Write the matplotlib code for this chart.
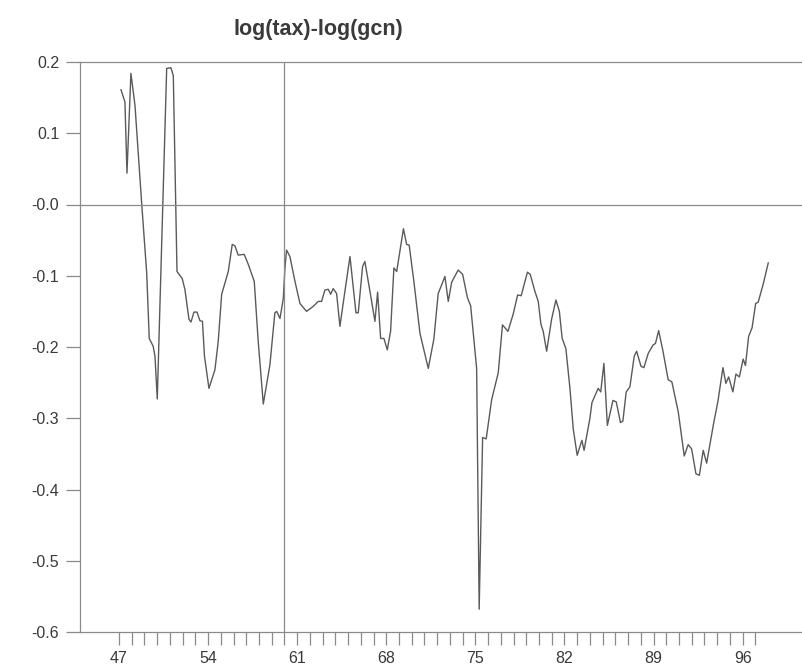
import matplotlib
matplotlib.use("Agg")
import matplotlib.pyplot as plt
import numpy as np

plt.rcParams['font.family'] = ['Liberation Sans', 'DejaVu Sans']
plt.rcParams['axes.unicode_minus'] = False

title = "log(tax)-log(gcn)"

dates = [
    1947.16, 1947.47, 1947.63, 1947.94, 1948.26, 1948.78, 1949.18, 1949.38, 1949.69, 1949.83,
    1950.01, 1950.75, 1951.08, 1951.27, 1951.56, 1951.97, 1952.18, 1952.50, 1952.66, 1952.89,
    1953.13, 1953.36, 1953.56, 1953.72, 1954.07, 1954.54, 1954.80, 1955.07, 1955.59, 1955.90,
    1956.11, 1956.37, 1956.84, 1957.16, 1957.63, 1957.94, 1958.34, 1958.86, 1959.25, 1959.39,
    1959.65, 1959.91, 1960.04, 1960.17, 1960.43, 1960.83, 1961.22, 1961.74, 1962.26, 1962.66,
    1962.92, 1963.18, 1963.44, 1963.63, 1963.83, 1964.10, 1964.36, 1964.75, 1965.15, 1965.62,
    1965.80, 1966.14, 1966.32, 1966.72, 1967.11, 1967.32, 1967.56, 1967.82, 1968.08, 1968.34,
    1968.60, 1968.82, 1969.35, 1969.60, 1969.80, 1970.17, 1970.65, 1971.30, 1971.74, 1972.08,
    1972.61, 1972.87, 1973.14, 1973.65, 1974.00, 1974.38, 1974.63, 1975.10, 1975.30, 1975.57,
    1975.85, 1976.28, 1976.80, 1977.13, 1977.56, 1977.97, 1978.32, 1978.60, 1979.09, 1979.31,
    1979.68, 1979.94, 1980.15, 1980.33, 1980.60, 1980.99, 1981.33, 1981.60, 1981.82, 1982.11,
    1982.43, 1982.69, 1983.00, 1983.37, 1983.54, 1984.00, 1984.16, 1984.65, 1984.85, 1985.10,
    1985.37, 1985.81, 1986.07, 1986.40, 1986.59, 1986.85, 1987.14, 1987.48, 1987.67, 1988.01,
    1988.24, 1988.58, 1988.97, 1989.15, 1989.40, 1989.73, 1990.15, 1990.44, 1990.94, 1991.41,
    1991.72, 1991.99, 1992.33, 1992.60, 1992.90, 1993.17, 1993.56, 1993.74, 1994.05, 1994.45,
    1994.68, 1994.90, 1995.23, 1995.47, 1995.74, 1996.04, 1996.22, 1996.47, 1996.74, 1997.02,
    1997.22, 1997.61, 1998.01,
]
values = [
    0.161, 0.144, 0.044, 0.184, 0.139, 0.003, -0.096, -0.188, -0.199, -0.213,
    -0.273, 0.191, 0.192, 0.181, -0.094, -0.104, -0.119, -0.161, -0.165, -0.151,
    -0.151, -0.163, -0.164, -0.213, -0.258, -0.232, -0.192, -0.126, -0.094, -0.056,
    -0.058, -0.071, -0.070, -0.084, -0.108, -0.192, -0.280, -0.225, -0.152, -0.150,
    -0.160, -0.132, -0.089, -0.064, -0.073, -0.108, -0.139, -0.150, -0.143, -0.136,
    -0.136, -0.120, -0.119, -0.126, -0.118, -0.125, -0.171, -0.122, -0.073, -0.152,
    -0.152, -0.087, -0.080, -0.122, -0.164, -0.123, -0.188, -0.188, -0.204, -0.178,
    -0.089, -0.094, -0.034, -0.056, -0.057, -0.108, -0.181, -0.230, -0.189, -0.125,
    -0.101, -0.136, -0.109, -0.092, -0.098, -0.131, -0.142, -0.230, -0.568, -0.327,
    -0.329, -0.274, -0.236, -0.169, -0.178, -0.154, -0.127, -0.128, -0.095, -0.098,
    -0.122, -0.136, -0.168, -0.178, -0.206, -0.161, -0.134, -0.150, -0.188, -0.202,
    -0.258, -0.315, -0.352, -0.331, -0.345, -0.300, -0.278, -0.258, -0.263, -0.223,
    -0.310, -0.275, -0.277, -0.306, -0.304, -0.263, -0.256, -0.213, -0.206, -0.227,
    -0.229, -0.209, -0.197, -0.195, -0.177, -0.205, -0.246, -0.249, -0.291, -0.353,
    -0.337, -0.343, -0.378, -0.380, -0.345, -0.363, -0.323, -0.305, -0.277, -0.229,
    -0.251, -0.242, -0.263, -0.238, -0.242, -0.217, -0.226, -0.185, -0.173, -0.139,
    -0.137, -0.112, -0.082,
]

ytick_vals = [0.2, 0.1, 0.0, -0.1, -0.2, -0.3, -0.4, -0.5, -0.6]
ytick_labels = ["0.2", "0.1", "-0.0", "-0.1", "-0.2", "-0.3", "-0.4", "-0.5", "-0.6"]
xtick_major = [1947, 1954, 1961, 1968, 1975, 1982, 1989, 1996]
xtick_labels = ["47", "54", "61", "68", "75", "82", "89", "96"]
xtick_minor = list(range(1947, 1998))
vline_year = 1960

line_col = '#5a5a5a'
axis_col = '#8a8a8a'
text_col = '#3a3a3a'

fig = plt.figure(figsize=(8.02, 6.71), dpi=100)
ax = fig.add_axes([80/802, 1 - 632/671, 730/802, (632 - 62)/671])

ax.plot(dates, values, color=line_col, lw=1.0)
ax.axhline(0.0, color=axis_col, lw=0.9)
ax.axvline(vline_year, color=axis_col, lw=0.9)

ax.set_ylim(-0.6, 0.2)
ax.set_xlim(1943.94, 2001.29)

ax.set_yticks(ytick_vals)
ax.set_yticklabels(ytick_labels)
ax.set_xticks(xtick_minor)
ax.set_xticklabels([xtick_labels[xtick_major.index(y)] if y in xtick_major else "" for y in xtick_minor])

for s in ['left', 'bottom', 'top']:
    ax.spines[s].set_color(axis_col)
    ax.spines[s].set_linewidth(0.9)
ax.spines['right'].set_visible(False)

ax.tick_params(axis='y', direction='out', length=10, width=0.9, color=axis_col,
               labelsize=11.5, labelcolor=text_col, pad=5)
ax.tick_params(axis='x', direction='out', length=9, width=0.9, color=axis_col,
               labelsize=11.5, labelcolor=text_col, pad=5)

fig.text(318/802, 1 - 30/671, title, ha='center', va='center',
         fontsize=15.5, fontweight='bold', color=text_col)

fig.savefig("out.png", dpi=100)
